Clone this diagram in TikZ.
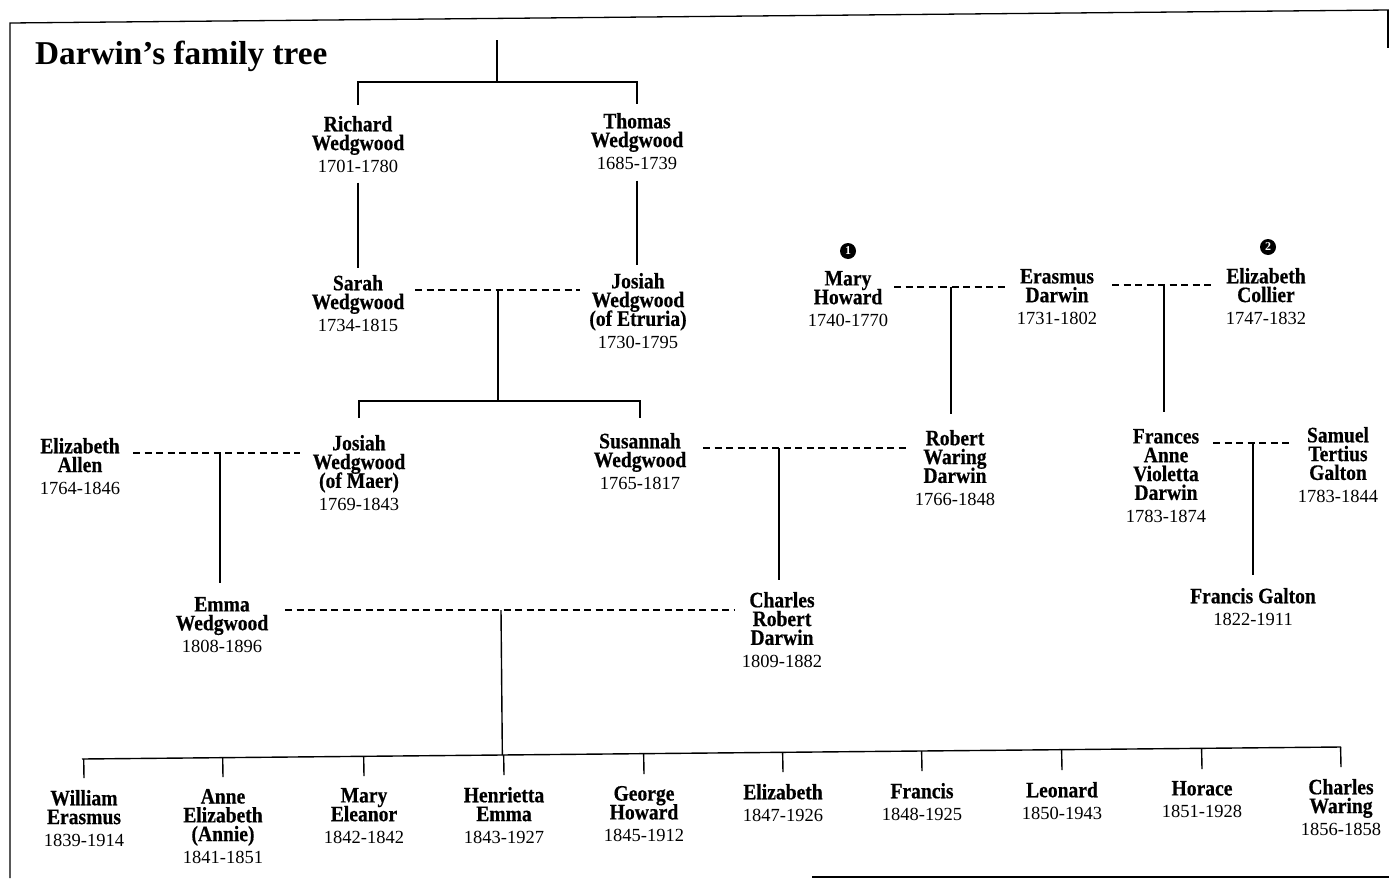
\documentclass[tikz,border=0pt]{standalone}
\usepackage{fontspec}
\setmainfont{Liberation Serif}
\newfontfamily\namef[FakeStretch=0.89,FakeBold=0.5]{Liberation Serif}
\newfontfamily\datef{Liberation Serif}
\usetikzlibrary{calc}
\newcommand{\yrs}[1]{{\datef\mdseries\fontsize{18.5}{18.5}\selectfont #1}}
\newcommand{\namestyle}{\namef\bfseries\fontsize{22}{18.8}\selectfont\setlength{\lineskiplimit}{-30pt}\setlength{\lineskip}{0pt}}
\tikzset{
  person/.style={anchor=north, align=center, inner sep=0pt, outer sep=0pt, font=\namestyle},
  link/.style={line width=1.4pt, black},
  marr/.style={line width=1.4pt, black, dash pattern=on 7pt off 4.5pt},
  marker/.style={circle, fill=black, inner sep=0pt, minimum size=16pt, text=white,
    font=\datef\bfseries\fontsize{12}{12}\selectfont},
  frame/.style={line width=1.3pt, black},
}
\begin{document}
\begin{tikzpicture}[x=1pt, y=-1pt]
\useasboundingbox (0,0) rectangle (1389,878);
% frame
\draw[frame] (1389,10) -- (10,23) -- (10,878);
\draw[frame] (1388,10) -- (1388,48);
\draw[frame] (812,877) -- (1389,877);
% title
\node[anchor=base west, inner sep=0pt, font=\bfseries\fontsize{33.3}{35}\selectfont] (title) at (35,64) {Darwin’s family tree};

% people
\node[person] (richard) at (358,116) {Richard\\Wedgwood\\[3.5pt]\yrs{1701-1780}};
\node[person] (thomas) at (637,113) {Thomas\\Wedgwood\\[3.5pt]\yrs{1685-1739}};
\node[person] (sarah) at (358,275) {Sarah\\Wedgwood\\[3.5pt]\yrs{1734-1815}};
\node[person] (josiahE) at (638,273) {Josiah\\Wedgwood\\(of Etruria)\\[3.5pt]\yrs{1730-1795}};
\node[person] (elizA) at (80,438) {Elizabeth\\Allen\\[3.5pt]\yrs{1764-1846}};
\node[person] (josiahM) at (359,435) {Josiah\\Wedgwood\\(of Maer)\\[3.5pt]\yrs{1769-1843}};
\node[person] (susannah) at (640,433) {Susannah\\Wedgwood\\[3.5pt]\yrs{1765-1817}};
\node[person] (robert) at (955,430) {Robert\\Waring\\Darwin\\[3.5pt]\yrs{1766-1848}};
\node[person] (maryH) at (848,271) {Mary\\Howard\\[3.5pt]\yrs{1740-1770}};
\node[person] (erasmus) at (1057,269) {Erasmus\\Darwin\\[3.5pt]\yrs{1731-1802}};
\node[person] (elizC) at (1266,268) {Elizabeth\\Collier\\[3.5pt]\yrs{1747-1832}};
\node[person] (frances) at (1166,429) {Frances\\Anne\\Violetta\\Darwin\\[3.5pt]\yrs{1783-1874}};
\node[person] (samuel) at (1338,427) {Samuel\\Tertius\\Galton\\[3.5pt]\yrs{1783-1844}};
\node[person] (francisG) at (1253,588) {Francis Galton\\[3.5pt]\yrs{1822-1911}};
\node[person] (emma) at (222,597) {Emma\\Wedgwood\\[3.5pt]\yrs{1808-1896}};
\node[person] (charles) at (782,592) {Charles\\Robert\\Darwin\\[3.5pt]\yrs{1809-1882}};
% markers
\node[marker] (mk1) at (848,251) {1};
\node[marker] (mk2) at (1268,247) {2};
% children
\node[person] (c1) at (84,790) {William\\Erasmus\\[3.5pt]\yrs{1839-1914}};
\node[person] (c2) at (223,789) {Anne\\Elizabeth\\(Annie)\\[3.5pt]\yrs{1841-1851}};
\node[person] (c3) at (364,788) {Mary\\Eleanor\\[3.5pt]\yrs{1842-1842}};
\node[person] (c4) at (504,787) {Henrietta\\Emma\\[3.5pt]\yrs{1843-1927}};
\node[person] (c5) at (644,786) {George\\Howard\\[3.5pt]\yrs{1845-1912}};
\node[person] (c6) at (783,784) {Elizabeth\\[3.5pt]\yrs{1847-1926}};
\node[person] (c7) at (922,783) {Francis\\[3.5pt]\yrs{1848-1925}};
\node[person] (c8) at (1062,782) {Leonard\\[3.5pt]\yrs{1850-1943}};
\node[person] (c9) at (1202,781) {Horace\\[3.5pt]\yrs{1851-1928}};
\node[person] (c10) at (1341,779) {Charles\\Waring\\[3.5pt]\yrs{1856-1858}};

% top bracket
\coordinate (top) at (497,40);
\coordinate (tb) at (497,82);
\draw[link] (top) -- (tb);
\draw[link] ($(richard.north)+(0,-11)$) -- (richard.north |- tb) -- (thomas.north |- tb) -- ($(thomas.north)+(0,-9)$);
% direct descents
\draw[link, shorten <=10pt, shorten >=7pt] (richard.south) -- (sarah.north);
\draw[link, shorten <=11pt, shorten >=8pt] (thomas.south) -- (thomas.south |- josiahE.north);

% marriage 1: Sarah - Josiah (Etruria)
\coordinate (m1a) at (415,290); \coordinate (m1b) at (580,290); \coordinate (j1) at (498,290);
\coordinate (mb) at (498,401);
\draw[marr] (m1a) -- (m1b);
\draw[link] (j1) -- (mb);
\draw[link] ($(josiahM.north)+(0,-17)$) -- (josiahM.north |- mb) -- (susannah.north |- mb) -- ($(susannah.north)+(0,-15)$);

% marriage 2: Elizabeth Allen - Josiah (Maer)
\coordinate (m2a) at (133,453); \coordinate (m2b) at (300,453); \coordinate (j2) at (220,453);
\draw[marr] (m2a) -- (m2b);
\draw[link, shorten >=14pt] (j2) -- (j2 |- emma.north);

% marriage 3: Susannah - Robert
\coordinate (m3a) at (703,448); \coordinate (m3b) at (907,448); \coordinate (j3) at (779,448);
\draw[marr] (m3a) -- (m3b);
\draw[link, shorten >=12pt] (j3) -- (j3 |- charles.north);

% marriage 4: Mary Howard - Erasmus
\coordinate (m4a) at (894,287); \coordinate (m4b) at (1005,287); \coordinate (j4) at (951,287);
\draw[marr] (m4a) -- (m4b);
\draw[link, shorten >=16pt] (j4) -- (j4 |- robert.north);

% marriage 5: Erasmus - Elizabeth Collier
\coordinate (m5a) at (1112,285); \coordinate (m5b) at (1212,285); \coordinate (j5) at (1164,285);
\draw[marr] (m5a) -- (m5b);
\draw[link, shorten >=17pt] (j5) -- (j5 |- frances.north);

% marriage 6: Frances - Samuel
\coordinate (m6a) at (1213,443); \coordinate (m6b) at (1290,443); \coordinate (j6) at (1253,443);
\draw[marr] (m6a) -- (m6b);
\draw[link, shorten >=13pt] (j6) -- (j6 |- francisG.north);

% marriage 7: Emma - Charles
\coordinate (m7a) at (285,610); \coordinate (m7b) at (735,610); \coordinate (j7) at (501,610);
\draw[marr] (m7a) -- (m7b);
\coordinate (bL) at (82,759); \coordinate (bR) at (1341,747);
\draw[link] (j7) -- ($(bL)!(j7)!(bR)$);
\draw[link] (bL) -- (bR);
\foreach \c in {c1,c2,c3,c4,c5,c6,c7,c8,c9,c10}{
  \draw[link] ($(bL)!(\c.north)!(bR)$) -- ($(\c.north)+(0,-12)$);
}
\end{tikzpicture}
\end{document}
